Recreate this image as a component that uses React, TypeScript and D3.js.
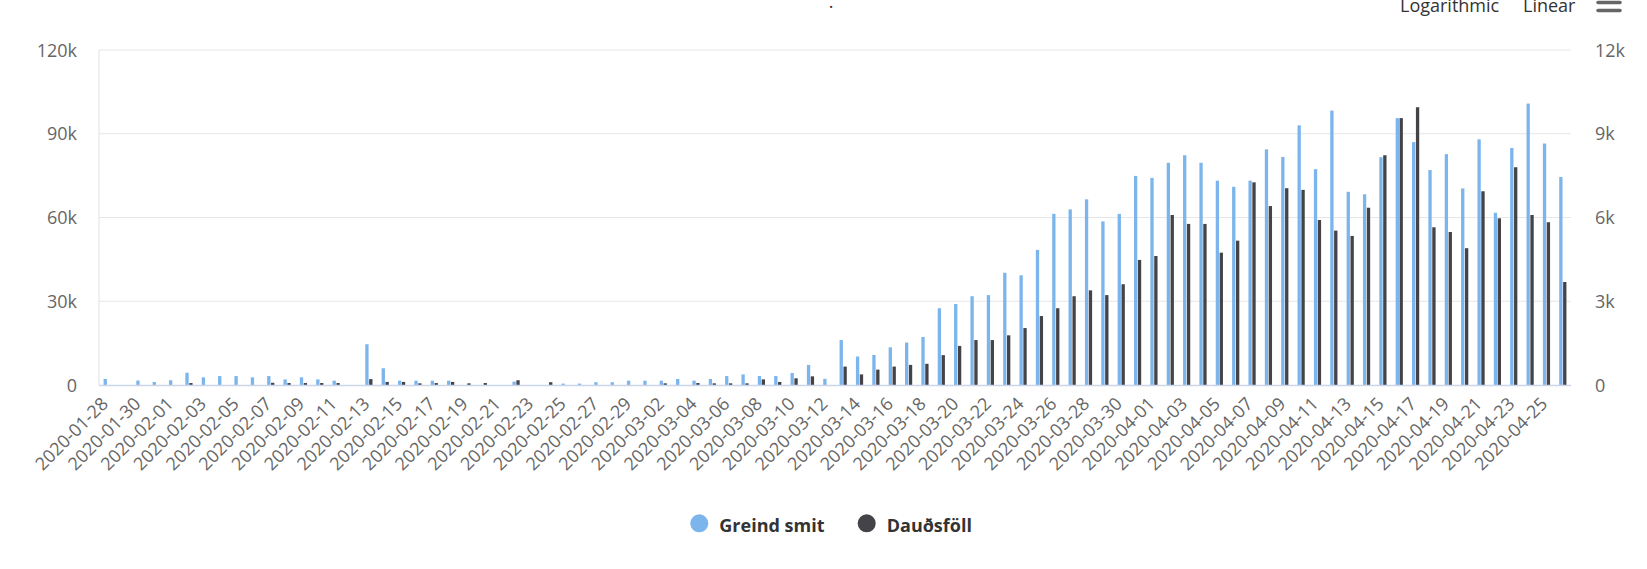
import React from "react"
import * as d3 from "d3"

const WIDTH = 1647
const HEIGHT = 569
const PLOT = { left: 99, right: 1571, top: 50, bottom: 385 }

// days from 2020-01-28 to 2020-04-26
const dates = d3
    .timeDays(new Date(2020, 0, 28), new Date(2020, 3, 27))
    .map((d) => d3.timeFormat("%Y-%m-%d")(d))

// Greind smit (left axis), in thousands
const cases = [
    2.15, 0, 1.6, 1.07, 1.7, 4.4, 2.75, 3.2, 3.2, 2.75,
    3.2, 2.0, 2.75, 2.0, 1.55, 0, 14.6, 6.0, 1.55, 1.55,
    1.55, 1.55, 0, 0, 0, 1.2, 0, 0, 0.5, 0.5,
    1.0, 1.0, 1.55, 1.55, 1.55, 2.15, 1.55, 2.15, 3.2, 3.8,
    3.2, 3.2, 4.3, 7.2, 2.2, 16.1, 10.2, 10.75, 13.5, 15.2,
    17.2, 27.5, 29.0, 31.8, 32.2, 40.2, 39.3, 48.4, 61.3, 62.9,
    66.5, 58.6, 61.3, 74.9, 74.2, 79.6, 82.3, 79.6, 73.2, 71.0,
    73.2, 84.4, 81.7, 93.0, 77.3, 98.3, 69.2, 68.3, 81.6, 95.6,
    87.0, 77.0, 82.7, 70.4, 88.0, 61.7, 84.9, 100.8, 86.5, 74.5,
]

// Dauðsföll (right axis), in thousands
const deaths = [
    0, 0, 0, 0, 0, 0.07, 0, 0, 0, 0,
    0.08, 0.07, 0.07, 0.07, 0.07, 0, 0.21, 0.11, 0.11, 0.06,
    0.07, 0.11, 0.06, 0.07, 0, 0.17, 0, 0.1, 0, 0,
    0, 0, 0, 0, 0.06, 0, 0.07, 0.06, 0.06, 0.06,
    0.2, 0.11, 0.24, 0.31, 0, 0.66, 0.38, 0.55, 0.66, 0.72,
    0.76, 1.07, 1.4, 1.61, 1.61, 1.78, 2.04, 2.47, 2.75, 3.18,
    3.39, 3.22, 3.61, 4.48, 4.62, 6.09, 5.77, 5.77, 4.74, 5.17,
    7.26, 6.41, 7.05, 6.99, 5.91, 5.53, 5.34, 6.35, 8.23, 9.56,
    9.95, 5.65, 5.48, 4.9, 6.94, 5.97, 7.8, 6.09, 5.83, 3.69,
]

const leftTicks = [0, 30000, 60000, 90000, 120000]
const rightTicks = [0, 3000, 6000, 9000, 12000]

const series = [
    { key: "smit", name: "Greind smit", color: "#7cb5ec" },
    { key: "dauds", name: "Dauðsföll", color: "#434348" },
]

const FONT = "'Open Sans', 'Noto Sans', sans-serif"

export default function App() {
    const x = d3
        .scaleBand()
        .domain(dates)
        .range([PLOT.left, PLOT.right])
        .padding(0)
    const bw = x.bandwidth()
    const x1 = d3
        .scaleBand()
        .domain(series.map((s) => s.key))
        .range([bw / 2 - 3.6, bw / 2 + 3.6])
        .paddingInner(0.15)

    const yLeft = d3
        .scaleLinear()
        .domain([0, 120000])
        .range([PLOT.bottom, PLOT.top])
    const yRight = d3
        .scaleLinear()
        .domain([0, 12000])
        .range([PLOT.bottom, PLOT.top])
    const fmt = d3.format("~s")

    const grid = leftTicks.map((t, i) => (
        <g key={i}>
            {t > 0 && (
                <line
                    x1={PLOT.left}
                    x2={PLOT.right}
                    y1={yLeft(t)}
                    y2={yLeft(t)}
                    stroke="#e6e6e6"
                />
            )}
            <text
                x={77}
                y={yLeft(t) + 6.5}
                textAnchor="end"
                fontSize={18}
                fill="#666"
            >
                {fmt(t)}
            </text>
            <text
                x={1595}
                y={yRight(rightTicks[i]) + 6.5}
                textAnchor="start"
                fontSize={18}
                fill="#666"
            >
                {fmt(rightTicks[i])}
            </text>
        </g>
    ))

    const bars = dates.map((d, i) => {
        const x0 = x(d) ?? 0
        return (
            <g key={d}>
                {cases[i] > 0 && (
                    <rect
                        x={x0 + (x1("smit") ?? 0)}
                        y={yLeft(cases[i] * 1000)}
                        width={x1.bandwidth()}
                        height={PLOT.bottom - yLeft(cases[i] * 1000)}
                        fill={series[0].color}
                    />
                )}
                {deaths[i] > 0 && (
                    <rect
                        x={x0 + (x1("dauds") ?? 0)}
                        y={yRight(deaths[i] * 1000)}
                        width={x1.bandwidth()}
                        height={PLOT.bottom - yRight(deaths[i] * 1000)}
                        fill={series[1].color}
                    />
                )}
            </g>
        )
    })

    const xLabels = dates
        .filter((_, i) => i % 2 === 0)
        .map((d) => {
            const tx = (x(d) ?? 0) + bw / 2 + 2
            const ty = 405
            return (
                <text
                    key={d}
                    x={tx}
                    y={ty}
                    textAnchor="end"
                    fontSize={18}
                    fill="#666"
                    transform={`rotate(-45 ${tx} ${ty})`}
                >
                    {d}
                </text>
            )
        })

    const legendX = [699.3, 866.7]

    return (
        <svg
            width={WIDTH}
            height={HEIGHT}
            style={{ position: "absolute", left: 0, top: 0, background: "#fff" }}
            fontFamily={FONT}
        >
            <text x={831} y={8} fontSize={18} fill="#333" textAnchor="middle">
                .
            </text>
            <text x={1400} y={12} fontSize={18} fill="#333">
                Logarithmic
            </text>
            <text x={1523} y={12} fontSize={18} fill="#333">
                Linear
            </text>
            {[-5.5, 2.5, 10.5].map((yy, i) => (
                <line
                    key={i}
                    x1={1598}
                    x2={1620}
                    y1={yy}
                    y2={yy}
                    stroke="#666"
                    strokeWidth={3.5}
                    strokeLinecap="round"
                />
            ))}
            {grid}
            <line
                x1={PLOT.left}
                x2={PLOT.left}
                y1={PLOT.top}
                y2={PLOT.bottom}
                stroke="#e0e0e0"
            />
            {bars}
            <line
                x1={PLOT.left}
                x2={PLOT.right}
                y1={PLOT.bottom + 0.5}
                y2={PLOT.bottom + 0.5}
                stroke="#ccd6eb"
                strokeWidth={1.5}
            />
            {xLabels}
            {series.map((s, i) => (
                <g key={s.key}>
                    <circle cx={legendX[i]} cy={523.3} r={9} fill={s.color} />
                    <text
                        x={legendX[i] + 20}
                        y={531.5}
                        fontSize={18}
                        fontWeight="bold"
                        fill="#333"
                    >
                        {s.name}
                    </text>
                </g>
            ))}
        </svg>
    )
}
